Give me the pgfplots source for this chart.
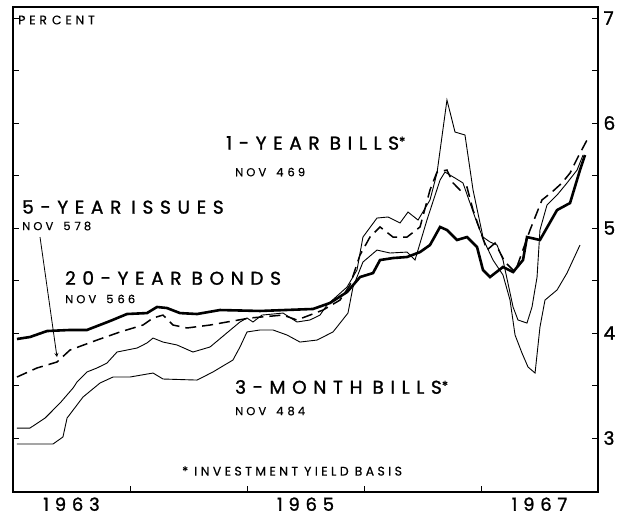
\documentclass[border=0pt]{standalone}
\usepackage{pgfplots}
\pgfplotsset{compat=1.18}
\usepackage{fontspec}
\setmainfont{Poppins}
\newfontfamily\lsfont{Poppins}[LetterSpace=36, FakeBold=1.3]
\newfontfamily\yrfont{Poppins}[LetterSpace=32, FakeBold=1.3]
\newfontfamily\numfont{Poppins}[FakeBold=1.3]
\newfontfamily\lssmall{Poppins}[LetterSpace=27, FakeBold=0.4]
\newfontfamily\pcfont{Poppins}[LetterSpace=30, FakeBold=0.4]
\newcommand{\gap}[1]{\rule{#1}{0pt}}
\newcommand{\bigf}{\lsfont\fontsize{18.5}{20}\selectfont}
\newcommand{\smf}{\lssmall\fontsize{11.5}{13}\selectfont}
\newcommand{\biglab}[2]{{\bigf #1}\gap{10pt}{\bigf #2}}
\newcommand{\smalllab}[2]{{\smf NOV}\gap{10pt}{\smf #1}\gap{4pt}{\smf #2}}
\newcommand{\astx}{\raisebox{0.6ex}{\numfont\fontsize{13}{13}\selectfont *}}
\begin{document}
\begin{tikzpicture}
\begin{axis}[
  scale only axis, width=585pt, height=485pt,
  xmin=1963, xmax=1968, ymin=2.486, ymax=7.105,
  axis line style={line width=1.2pt},
  tick align=inside,
  major tick length=6pt, minor tick length=6pt,
  ytick={3,4,5,6,7}, minor ytick={3.5,4.5,5.5,6.5},
  yticklabel pos=right, ytick pos=both,
  xtick={1964,1965,1966,1967}, xticklabels={}, xtick pos=bottom,
  extra x ticks={1963.5,1965.5,1967.5},
  extra x tick labels={1963,1965,1967},
  extra x tick style={major tick length=0pt},
  xticklabel style={font=\yrfont\fontsize{18}{20}\selectfont, yshift=-2pt},
  yticklabel style={font=\numfont\fontsize{18.5}{20}\selectfont, xshift=2pt},
  /pgf/number format/assume math mode=true,
  tick style={line width=0.8pt, black},
]
% 3-month bills
\addplot[black, line width=0.9pt] coordinates {
(1963.034,2.943)(1963.342,2.943)(1963.427,3.010)(1963.462,3.190)(1963.598,3.390)(1963.744,3.524)(1963.855,3.581)(1964.000,3.581)(1964.197,3.619)(1964.282,3.562)(1964.573,3.552)(1964.709,3.629)(1964.880,3.743)(1964.940,3.867)(1965.000,4.010)(1965.111,4.029)(1965.222,4.029)(1965.342,3.981)(1965.453,3.914)(1965.598,3.933)(1965.735,4.010)(1965.863,4.190)(1965.906,4.438)(1965.991,4.676)(1966.111,4.790)(1966.222,4.762)(1966.368,4.771)(1966.436,4.695)(1966.538,5.076)(1966.650,5.457)(1966.692,5.533)(1966.778,5.476)(1966.846,5.429)(1966.906,5.238)(1966.966,5.048)(1967.034,4.857)(1967.103,4.695)(1967.188,4.552)(1967.248,4.314)(1967.291,3.981)(1967.350,3.810)(1967.402,3.676)(1967.462,3.619)(1967.504,4.057)(1967.547,4.314)(1967.650,4.410)(1967.735,4.571)(1967.846,4.838)
};
% 1-year bills
\addplot[black, line width=0.9pt] coordinates {
(1963.034,3.095)(1963.145,3.095)(1963.274,3.190)(1963.402,3.333)(1963.513,3.476)(1963.547,3.533)(1963.632,3.629)(1963.718,3.667)(1963.803,3.714)(1963.889,3.819)(1963.974,3.838)(1964.060,3.857)(1964.145,3.905)(1964.197,3.952)(1964.282,3.914)(1964.402,3.886)(1964.538,3.819)(1964.684,3.867)(1964.940,4.105)(1965.000,4.143)(1965.051,4.105)(1965.128,4.171)(1965.308,4.190)(1965.427,4.105)(1965.538,4.124)(1965.624,4.171)(1965.684,4.267)(1965.855,4.438)(1965.940,4.600)(1965.991,4.914)(1966.111,5.095)(1966.205,5.105)(1966.308,5.048)(1966.376,5.152)(1966.462,5.076)(1966.564,5.267)(1966.624,5.524)(1966.709,6.219)(1966.778,5.914)(1966.863,5.886)(1966.932,5.362)(1967.017,4.914)(1967.077,4.867)(1967.137,4.838)(1967.188,4.695)(1967.274,4.248)(1967.316,4.124)(1967.393,4.095)(1967.436,4.248)(1967.479,4.533)(1967.504,4.981)(1967.564,5.219)(1967.650,5.314)(1967.735,5.429)(1967.821,5.552)(1967.872,5.695)
};
% 5-year issues
\addplot[black, line width=1.5pt, dash pattern=on 11pt off 6pt] coordinates {
(1963.034,3.581)(1963.205,3.667)(1963.376,3.724)(1963.487,3.838)(1963.718,3.933)(1963.915,4.010)(1964.111,4.076)(1964.197,4.143)(1964.282,4.171)(1964.368,4.076)(1964.487,4.048)(1964.684,4.076)(1964.829,4.105)(1965.026,4.143)(1965.308,4.171)(1965.427,4.124)(1965.538,4.171)(1965.650,4.219)(1965.795,4.314)(1965.880,4.457)(1965.966,4.743)(1966.051,4.914)(1966.137,5.010)(1966.248,4.914)(1966.368,4.914)(1966.479,5.010)(1966.564,5.362)(1966.624,5.533)(1966.709,5.552)(1966.761,5.429)(1966.821,5.362)(1966.880,5.390)(1966.932,5.171)(1966.991,4.981)(1967.051,4.790)(1967.120,4.857)(1967.205,4.676)(1967.291,4.581)(1967.419,4.981)(1967.521,5.267)(1967.607,5.343)(1967.692,5.429)(1967.761,5.524)(1967.829,5.676)(1967.906,5.838)
};
% 20-year bonds
\addplot[black, line width=2.6pt] coordinates {
(1963.034,3.943)(1963.145,3.962)(1963.291,4.019)(1963.487,4.029)(1963.632,4.029)(1963.829,4.114)(1963.974,4.181)(1964.145,4.190)(1964.231,4.248)(1964.316,4.238)(1964.427,4.190)(1964.573,4.181)(1964.769,4.219)(1965.111,4.210)(1965.564,4.229)(1965.709,4.286)(1965.855,4.390)(1965.966,4.533)(1966.077,4.571)(1966.137,4.695)(1966.248,4.714)(1966.368,4.724)(1966.479,4.771)(1966.564,4.838)(1966.650,5.010)(1966.709,4.981)(1966.795,4.886)(1966.880,4.914)(1966.966,4.819)(1967.017,4.600)(1967.077,4.533)(1967.188,4.629)(1967.274,4.581)(1967.359,4.695)(1967.393,4.914)(1967.504,4.886)(1967.650,5.171)(1967.761,5.238)(1967.846,5.552)(1967.889,5.695)
};
\node[anchor=west, inner sep=0pt] at (axis cs:1963.043,6.981) {{\pcfont\fontsize{12.5}{13}\selectfont PER}\gap{5pt}{\pcfont\fontsize{12.5}{13}\selectfont CENT}};
\node[anchor=west, inner sep=0pt] at (axis cs:1964.821,5.810) {\biglab{1-YEAR}{BILLS}\astx};
\node[anchor=west, inner sep=0pt] at (axis cs:1964.897,5.533) {\smalllab{4}{69}};
\node[anchor=west, inner sep=0pt] at (axis cs:1963.077,5.200) {\biglab{5-YEAR}{ISSUES}};
\node[anchor=west, inner sep=0pt] at (axis cs:1963.077,5.019) {\smalllab{5}{78}};
\node[anchor=west, inner sep=0pt] at (axis cs:1963.444,4.524) {\biglab{20-YEAR}{BONDS}};
\node[anchor=west, inner sep=0pt] at (axis cs:1963.444,4.324) {\smalllab{5}{66}};
\node[anchor=west, inner sep=0pt] at (axis cs:1964.897,3.486) {\biglab{3-MONTH}{BILLS}\astx};
\node[anchor=west, inner sep=0pt] at (axis cs:1964.897,3.257) {\smalllab{4}{84}};
\node[anchor=west, inner sep=0pt] at (axis cs:1964.444,2.686) {{\lssmall\fontsize{12.5}{14}\selectfont *}\gap{6pt}{\lssmall\fontsize{12.5}{14}\selectfont INVESTMENT}\gap{6pt}{\lssmall\fontsize{12.5}{14}\selectfont YIELD}\gap{6pt}{\lssmall\fontsize{12.5}{14}\selectfont BASIS}};
\draw[-stealth, line width=0.8pt] (axis cs:1963.231,4.914) -- (axis cs:1963.376,3.771);
\coordinate (sw) at (rel axis cs:0,0);
\coordinate (ne) at (rel axis cs:1,1);
\end{axis}
\path (sw) ++(-13pt,-27pt) rectangle ([shift={(29pt,7pt)}]ne);
\end{tikzpicture}
\end{document}
